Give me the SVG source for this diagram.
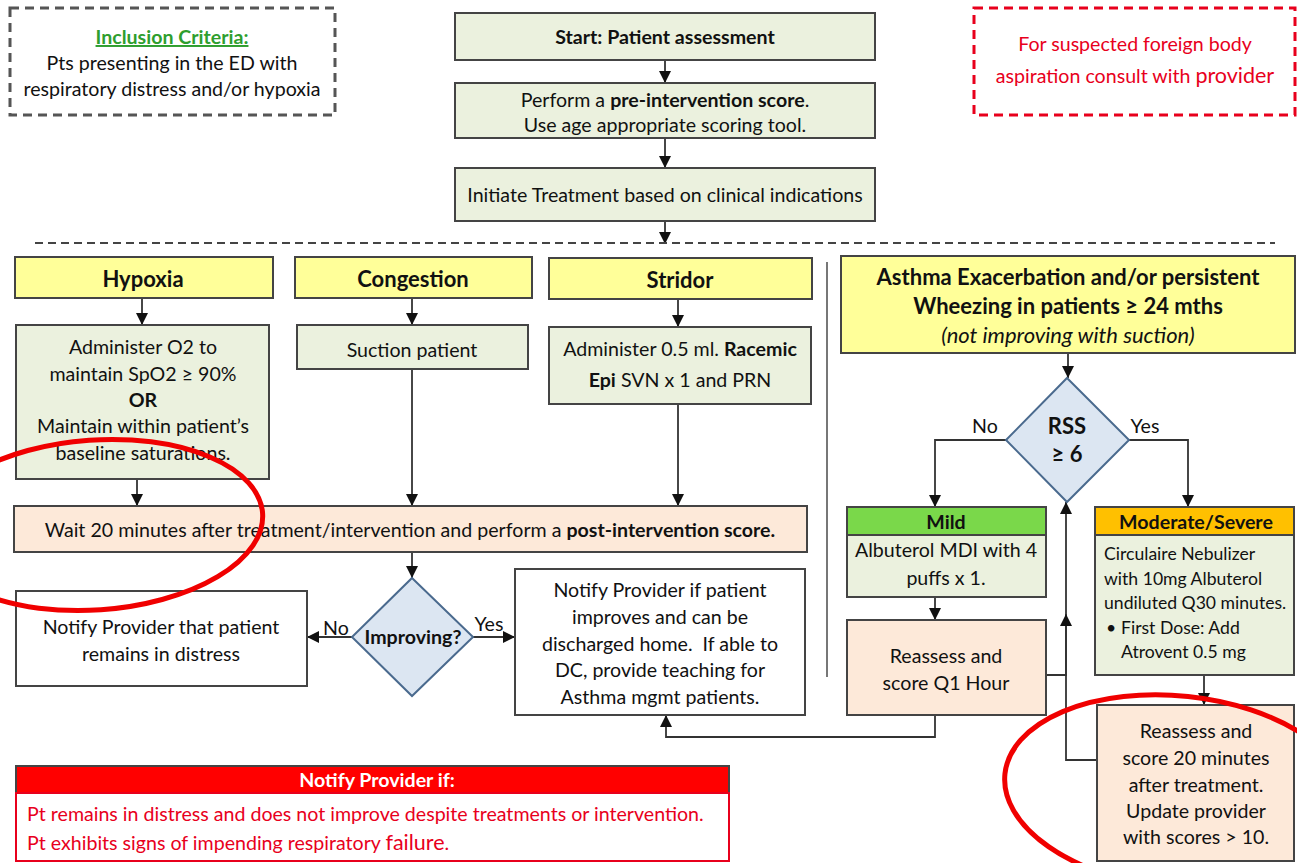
<svg xmlns="http://www.w3.org/2000/svg" width="1297" height="863" viewBox="0 0 1297 863">
<defs>
<style>
text{font-family:Lato,"Open Sans","Liberation Sans",sans-serif;font-size:19.6px;fill:#111;}
.c{text-anchor:middle;}
.b{font-weight:bold;}
.h{font-size:22px;}
.s{font-size:17.6px;}
.box{stroke:#444;stroke-width:2;}
.green{fill:#EBF1DE;}
.yellow{fill:#FFFF99;}
.peach{fill:#FDE9D9;}
.white{fill:#fff;}
.dia{fill:#DCE6F2;stroke:#4A6A8E;stroke-width:2;}
.ln{fill:none;stroke:#333;stroke-width:1.8;}
.red{fill:#E8001C;}
</style>
<marker id="ahb" viewBox="0 0 10 10" refX="10" refY="5" markerWidth="12" markerHeight="12" orient="auto" markerUnits="userSpaceOnUse">
<path d="M0,0 L10,5 L0,10 z" fill="#111"/>
</marker>
</defs>
<rect width="1297" height="863" fill="#fff"/>

<g id="connectors">
<path class="ln" d="M665,61 V83" marker-end="url(#ahb)"/>
<path class="ln" d="M665,138 V168" marker-end="url(#ahb)"/>
<path class="ln" d="M665,221 V244" marker-end="url(#ahb)"/>
<path class="ln" d="M142,298 V325" marker-end="url(#ahb)"/>
<path class="ln" d="M137,479 V506" marker-end="url(#ahb)"/>
<path class="ln" d="M412,298 V325" marker-end="url(#ahb)"/>
<path class="ln" d="M412,369 V506" marker-end="url(#ahb)"/>
<path class="ln" d="M678,299 V327" marker-end="url(#ahb)"/>
<path class="ln" d="M678,404 V506" marker-end="url(#ahb)"/>
<path class="ln" d="M412,552 V578" marker-end="url(#ahb)"/>
<path class="ln" d="M352,637 H307" marker-end="url(#ahb)"/>
<path class="ln" d="M473,637 H515" marker-end="url(#ahb)"/>
<path class="ln" d="M1068,353 V378" marker-end="url(#ahb)"/>
<path class="ln" d="M1006,440 H935 V507" marker-end="url(#ahb)"/>
<path class="ln" d="M1129,440 H1188 V507" marker-end="url(#ahb)"/>
<path class="ln" d="M935,597 V620" marker-end="url(#ahb)"/>
<path class="ln" d="M1204,675 V705" marker-end="url(#ahb)"/>
<path class="ln" d="M1046,675 H1066 V502" marker-end="url(#ahb)"/>
<path class="ln" d="M1097,760 H1066 V614" marker-end="url(#ahb)"/>
<path class="ln" d="M935,715 V737 H666 V715" marker-end="url(#ahb)"/>
<path d="M35,243 H1275" fill="none" stroke="#444" stroke-width="2" stroke-dasharray="8,5"/>
<path d="M827,262 V677" fill="none" stroke="#777" stroke-width="2"/>
</g>

<g id="inclusion">
<rect x="10" y="8" width="325" height="107" fill="#fff" stroke="#555" stroke-width="3" stroke-dasharray="9,6"/>
<text x="172" y="44" class="c b" style="fill:#2E9E2E;text-decoration:underline">Inclusion Criteria:</text>
<text x="172" y="70" class="c">Pts presenting in the ED with</text>
<text x="172" y="96" class="c">respiratory distress and/or hypoxia</text>
</g>

<g id="foreign-body">
<rect x="974" y="8" width="321" height="107" fill="#fff" stroke="#E8001C" stroke-width="3" stroke-dasharray="9,6"/>
<text x="1135" y="51" class="c red">For suspected foreign body</text>
<text x="1135" y="83" class="c red">aspiration consult with <tspan style="font-size:21.5px">provider</tspan></text>
</g>

<g id="start">
<rect x="455" y="13" width="420" height="47" class="box green"/>
<text x="665" y="44" class="c b">Start: Patient assessment</text>
</g>

<g id="pre-score">
<rect x="455" y="83" width="420" height="55" class="box green"/>
<text x="665" y="107" class="c">Perform a <tspan class="b">pre-intervention score</tspan>.</text>
<text x="665" y="132" class="c">Use age appropriate scoring tool.</text>
</g>

<g id="initiate">
<rect x="455" y="168" width="420" height="53" class="box green"/>
<text x="665" y="202" class="c">Initiate Treatment based on clinical indications</text>
</g>

<g id="hypoxia">
<rect x="15" y="257" width="258" height="41" class="box yellow"/>
<text x="143" y="287" class="c b h">Hypoxia</text>
</g>

<g id="hypoxia-tx">
<rect x="16" y="325" width="253" height="154" class="box green"/>
<text x="143" y="354" class="c">Administer O2 to</text>
<text x="143" y="381" class="c">maintain SpO2 ≥ 90%</text>
<text x="143" y="407" class="c b">OR</text>
<text x="143" y="433" class="c">Maintain within patient’s</text>
<text x="143" y="460" class="c">baseline saturations.</text>
</g>

<g id="congestion">
<rect x="295" y="257" width="237" height="41" class="box yellow"/>
<text x="413" y="287" class="c b h">Congestion</text>
</g>

<g id="suction">
<rect x="297" y="325" width="231" height="44" class="box green"/>
<text x="412" y="357" class="c">Suction patient</text>
</g>

<g id="stridor">
<rect x="549" y="258" width="263" height="41" class="box yellow"/>
<text x="680" y="288" class="c b h">Stridor</text>
</g>

<g id="stridor-tx">
<rect x="549" y="327" width="262" height="77" class="box green"/>
<text x="680" y="356" class="c">Administer 0.5 ml. <tspan class="b">Racemic</tspan></text>
<text x="680" y="387" class="c"><tspan class="b">Epi</tspan> SVN x 1 and PRN</text>
</g>

<g id="wait">
<rect x="14" y="506" width="793" height="46" class="box peach"/>
<text x="410" y="537" class="c">Wait 20 minutes after treatment/intervention and perform a <tspan class="b">post-intervention score.</tspan></text>
</g>

<g id="improving">
<path d="M412,578 L473,637 L412,696 L352,637 z" class="dia"/>
<text x="413" y="644" class="c b">Improving?</text>
<text x="336" y="635" class="c">No</text>
<text x="489" y="631" class="c">Yes</text>
</g>

<g id="distress">
<rect x="16" y="591" width="291" height="95" class="box white"/>
<text x="161" y="634" class="c">Notify Provider that patient</text>
<text x="161" y="661" class="c">remains in distress</text>
</g>

<g id="improves">
<rect x="515" y="569" width="290" height="146" class="box white"/>
<text x="660" y="597" class="c">Notify Provider if patient</text>
<text x="660" y="624" class="c">improves and can be</text>
<text x="660" y="651" class="c">discharged home.&#160; If able to</text>
<text x="660" y="677" class="c">DC, provide teaching for</text>
<text x="660" y="704" class="c">Asthma mgmt patients.</text>
</g>

<g id="notify-if">
<rect x="16" y="766" width="713" height="27" fill="#FF0000" stroke="#444" stroke-width="2"/>
<rect x="16" y="793" width="713" height="68" fill="#fff" stroke="#E8001C" stroke-width="2"/>
<text x="377" y="787" class="c b" style="fill:#fff">Notify Provider if:</text>
<text x="27" y="821" class="red">Pt remains in distress and does not improve despite treatments or intervention.</text>
<text x="27" y="850" class="red">Pt exhibits signs of impending respiratory <tspan style="font-size:21.5px">failure</tspan>.</text>
</g>

<g id="asthma">
<rect x="841" y="256" width="454" height="97" class="box yellow"/>
<text x="1068" y="285" class="c b h">Asthma Exacerbation and/or persistent</text>
<text x="1068" y="314" class="c b h">Wheezing in patients ≥ 24 mths</text>
<text x="1068" y="343" class="c h" style="font-style:italic">(not improving with suction)</text>
</g>

<g id="rss">
<path d="M1067,378 L1129,440 L1067,502 L1006,440 z" class="dia"/>
<text x="1067" y="434" class="c b h">RSS</text>
<text x="1067" y="462" class="c b h">≥ 6</text>
<text x="985" y="433" class="c">No</text>
<text x="1145" y="433" class="c">Yes</text>
</g>

<g id="mild">
<rect x="847" y="507" width="199" height="28" fill="#7AD84A" stroke="#444" stroke-width="2"/>
<rect x="847" y="535" width="199" height="62" class="box green"/>
<text x="946" y="529" class="c b">Mild</text>
<text x="946" y="557" class="c">Albuterol MDI with 4</text>
<text x="946" y="585" class="c">puffs x 1.</text>
</g>

<g id="q1">
<rect x="847" y="620" width="199" height="95" class="box peach"/>
<text x="946" y="663" class="c">Reassess and</text>
<text x="946" y="690" class="c">score Q1 Hour</text>
</g>

<g id="modsev">
<rect x="1095" y="507" width="199" height="28" fill="#FFC000" stroke="#444" stroke-width="2"/>
<rect x="1095" y="535" width="199" height="140" class="box green"/>
<text x="1196" y="529" class="c b">Moderate/Severe</text>
<text x="1104" y="560" class="s">Circulaire Nebulizer</text>
<text x="1104" y="585" class="s">with 10mg Albuterol</text>
<text x="1104" y="609" class="s">undiluted Q30 minutes.</text>
<text x="1106" y="634" class="s">•</text>
<text x="1121" y="634" class="s">First Dose: Add</text>
<text x="1121" y="658" class="s">Atrovent 0.5 mg</text>
</g>

<g id="q20">
<rect x="1097" y="705" width="197" height="156" class="box peach"/>
<text x="1196" y="738" class="c">Reassess and</text>
<text x="1196" y="765" class="c">score 20 minutes</text>
<text x="1196" y="792" class="c">after treatment.</text>
<text x="1196" y="818" class="c">Update provider</text>
<text x="1196" y="844" class="c">with scores &gt; 10.</text>
</g>

<g id="annotations" fill="none" stroke="#F00000" stroke-width="5">
<ellipse cx="95" cy="525" rx="168" ry="85" transform="rotate(-4 95 525)"/>
<ellipse cx="1178" cy="792" rx="174" ry="96" transform="rotate(6 1178 792)"/>
</g>
</svg>
